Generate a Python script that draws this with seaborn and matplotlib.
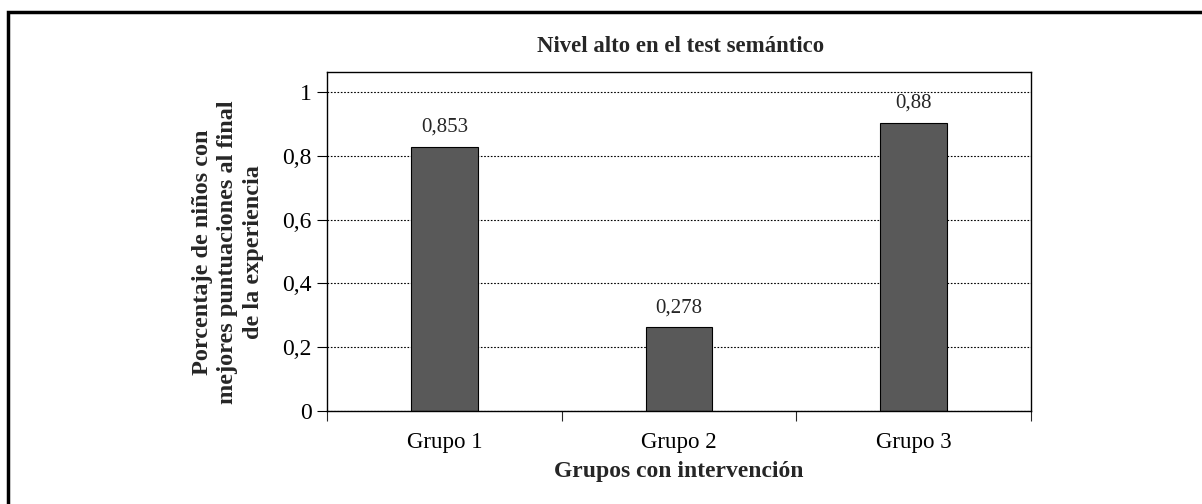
import pandas as pd
import matplotlib.pyplot as plt
import seaborn as sns
from matplotlib.patches import Rectangle

# datos
grupos = ["Grupo 1", "Grupo 2", "Grupo 3"]
alturas = [0.829, 0.264, 0.904]
etiquetas = ["0,853", "0,278", "0,88"]
yticks = [0, 0.2, 0.4, 0.6, 0.8, 1.0]
ytick_labels = ["0", "0,2", "0,4", "0,6", "0,8", "1"]

sns.set_style("white")
plt.rcParams["font.family"] = ["Liberation Serif", "DejaVu Serif"]

df = pd.DataFrame({"grupo": grupos, "valor": alturas})

fig = plt.figure(figsize=(12.02, 5.04), dpi=100)
ax = fig.add_axes([327 / 1202, 93 / 504, 704 / 1202, 339 / 504])

sns.barplot(data=df, x="grupo", y="valor", color="#595959", edgecolor="black",
            linewidth=0.8, width=0.284, saturation=1, ax=ax)

ax.set_xlim(-0.5, 2.5)
ax.set_ylim(0, 1.063)
ax.set_yticks(yticks)
ax.set_yticklabels(ytick_labels)
ax.set_axisbelow(True)
ax.yaxis.grid(True, color="black", linestyle=(0, (1.5, 1.5)), linewidth=0.8)

for s in ax.spines.values():
    s.set_color("black")
    s.set_linewidth(1.0)

ax.tick_params(axis="y", which="major", left=True, length=7, width=0.8,
               direction="out", pad=4, labelsize=17, colors="black")
ax.tick_params(axis="x", which="major", length=0, pad=15, labelsize=16.5,
               colors="black")
ax.set_xticks([-0.5, 0.5, 1.5, 2.5], minor=True)
ax.tick_params(axis="x", which="minor", bottom=True, length=7, width=0.8,
               direction="out")

for i, (h, t) in enumerate(zip(alturas, etiquetas)):
    ax.annotate(t, (i, h), xytext=(0, 7), textcoords="offset points",
                ha="center", va="bottom", fontsize=15)

ax.set_ylabel("")
ax.set_xlabel("Grupos con intervención", fontsize=17, fontweight="bold")
ax.xaxis.set_label_coords(0.5, -0.177)
ax.xaxis.label.set_va("center")

fig.text(681 / 1202, 1 - 47 / 504, "Nivel alto en el test semántico",
         ha="center", va="center", fontsize=16.4, fontweight="bold")
fig.text(228 / 1202, 1 - 252 / 504,
         "Porcentaje de niños con\nmejores puntuaciones al final\nde la experiencia",
         ha="center", va="center", rotation=90, multialignment="center",
         fontsize=17.5, fontweight="bold", linespacing=1.3)

# marco exterior
fig.patches.append(Rectangle((7.5 / 1202, -0.1), 1.2, 1.1 - 12 / 504,
                             transform=fig.transFigure, fill=False,
                             edgecolor="black", linewidth=2.5))

fig.savefig("out.png", dpi=100)
